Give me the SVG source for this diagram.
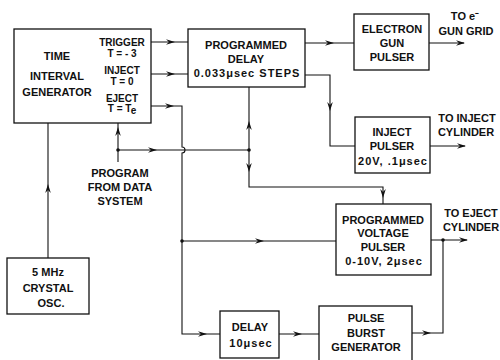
<svg xmlns="http://www.w3.org/2000/svg" xmlns:xlink="http://www.w3.org/1999/xlink" width="500" height="360" viewBox="0 0 500 360">
<style>
.box{fill:#fff;stroke:#111;stroke-width:1.3}
.ln{fill:none;stroke:#111;stroke-width:1.1}
text{font-family:"Liberation Sans",Arial,sans-serif;font-weight:bold;font-size:11px;fill:#111;text-anchor:middle}
.s{font-size:10px}
.w{letter-spacing:1px}
.dot{fill:#111}
</style>
<defs>
<path id="ah" d="M0,0 L-9,-2.8 L-6,0 L-9,2.8 Z" fill="#111"/>
</defs>
<rect width="500" height="360" fill="#fff"/>
<g id="connectors">
<path class="ln" d="M151,42 H188"/>
<use xlink:href="#ah" transform="translate(175,42)"/>
<path class="ln" d="M151,74 H188"/>
<use xlink:href="#ah" transform="translate(175,74)"/>
<path class="ln" d="M151,106 H182 V147 a3,3 0 0 1 0,6 V334 H220"/>
<use xlink:href="#ah" transform="translate(174,106)"/>
<use xlink:href="#ah" transform="translate(207,334)"/>
<path class="ln" d="M305,43 H354"/>
<use xlink:href="#ah" transform="translate(334,43)"/>
<path class="ln" d="M305,75 H330 V146 H355"/>
<use xlink:href="#ah" transform="translate(330,111) rotate(90)"/>
<path class="ln" d="M429,43 H464"/>
<use xlink:href="#ah" transform="translate(465,43)"/>
<path class="ln" d="M430,146 H465"/>
<use xlink:href="#ah" transform="translate(466,146)"/>
<path class="ln" d="M118,162 V123"/>
<use xlink:href="#ah" transform="translate(118,127) rotate(-90)"/>
<path class="ln" d="M118,150 H249"/>
<use xlink:href="#ah" transform="translate(157,150)"/>
<circle class="dot" cx="118" cy="150" r="1.8"/>
<path class="ln" d="M249,87 V187 H383 V204"/>
<use xlink:href="#ah" transform="translate(249,121) rotate(-90)"/>
<use xlink:href="#ah" transform="translate(249,172) rotate(90)"/>
<use xlink:href="#ah" transform="translate(383,198) rotate(90)"/>
<circle class="dot" cx="249" cy="150" r="1.8"/>
<path class="ln" d="M48,258 V123"/>
<use xlink:href="#ah" transform="translate(48,184) rotate(-90)"/>
<path class="ln" d="M182,241 H336"/>
<use xlink:href="#ah" transform="translate(264,241)"/>
<circle class="dot" cx="182" cy="241" r="1.8"/>
<path class="ln" d="M279,334 H319"/>
<use xlink:href="#ah" transform="translate(302,334)"/>
<path class="ln" d="M431,240 H467"/>
<use xlink:href="#ah" transform="translate(468,240)"/>
<circle class="dot" cx="443" cy="240" r="1.8"/>
<path class="ln" d="M412,333 H443 V240"/>
<use xlink:href="#ah" transform="translate(431,333)"/>
</g>
<g id="tig">
<rect class="box" x="14" y="29" width="137" height="94"/>
<text x="57" y="60">TIME</text>
<text x="57" y="80">INTERVAL</text>
<text x="57" y="96">GENERATOR</text>
<text class="s" x="122" y="46">TRIGGER</text>
<text class="s" x="122" y="57">T = - 3</text>
<text class="s" x="122" y="74">INJECT</text>
<text class="s" x="122" y="85">T = 0</text>
<text class="s" x="122" y="102">EJECT</text>
<text class="s" x="122" y="112">T = T<tspan dy="2">e</tspan></text>
</g>
<g id="progdelay">
<rect class="box" x="188" y="29" width="117" height="58"/>
<text x="246" y="49">PROGRAMMED</text>
<text x="246" y="63">DELAY</text>
<text class="w" x="247" y="77">0.033μsec STEPS</text>
</g>
<g id="egun">
<rect class="box" x="354" y="14" width="75" height="56"/>
<text x="392" y="33">ELECTRON</text>
<text x="392" y="47">GUN</text>
<text x="392" y="61">PULSER</text>
</g>
<g id="egun-out">
<text x="465" y="20">TO e⁻</text>
<text x="466" y="35">GUN GRID</text>
</g>
<g id="inject">
<rect class="box" x="355" y="117" width="75" height="56"/>
<text x="392" y="136">INJECT</text>
<text x="392" y="150">PULSER</text>
<text class="w" x="393" y="165">20V, .1μsec</text>
</g>
<g id="inject-out">
<text x="467" y="122">TO INJECT</text>
<text x="466" y="136">CYLINDER</text>
</g>
<g id="program">
<text x="120" y="177">PROGRAM</text>
<text x="120" y="191">FROM DATA</text>
<text x="120" y="205">SYSTEM</text>
</g>
<g id="pvp">
<rect class="box" x="336" y="204" width="95" height="71"/>
<text x="383" y="224">PROGRAMMED</text>
<text x="383" y="237">VOLTAGE</text>
<text x="383" y="251">PULSER</text>
<text class="w" x="384" y="265">0-10V, 2μsec</text>
</g>
<g id="eject-out">
<text x="471" y="217">TO EJECT</text>
<text x="471" y="231">CYLINDER</text>
</g>
<g id="crystal">
<rect class="box" x="7" y="258" width="82" height="56"/>
<text x="48" y="276">5 MHz</text>
<text x="48" y="292">CRYSTAL</text>
<text x="51" y="307">OSC.</text>
</g>
<g id="delay">
<rect class="box" x="220" y="311" width="59" height="47"/>
<text x="250" y="331">DELAY</text>
<text class="w" x="251" y="347">10μsec</text>
</g>
<g id="pbg">
<rect class="box" x="319" y="306" width="93" height="58"/>
<text x="366" y="322">PULSE</text>
<text x="366" y="337">BURST</text>
<text x="366" y="351">GENERATOR</text>
</g>
</svg>
